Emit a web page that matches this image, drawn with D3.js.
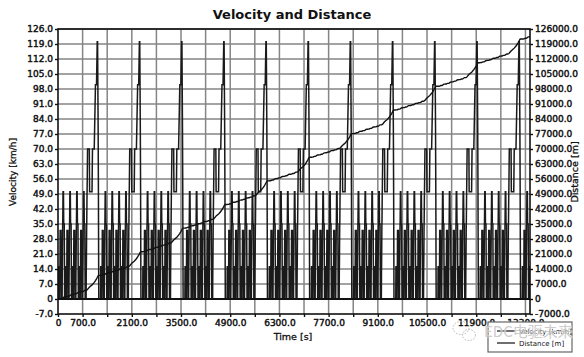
<!DOCTYPE html>
<html><head><meta charset="utf-8">
<script src="https://cdn.jsdelivr.net/npm/d3@7"></script>
<style>
html,body{margin:0;padding:0;background:#fff;}
svg{display:block;font-family:"DejaVu Sans",Verdana,sans-serif;}
</style></head>
<body><svg id="c" width="584" height="357"></svg>
<script>
// ---- data (repeated NEDC-type cycle) ----
// one urban (ECE) sub-cycle: time [s] and speed [km/h]
const eceTimes  = [0, 11, 15, 23, 25, 28, 49, 54, 56, 61, 85, 93, 96, 117, 122, 124, 133, 135, 143, 155, 163, 176, 178, 185, 188, 195];
const eceSpeeds = [0, 0, 15, 15, 10, 0, 0, 15, 15, 32, 32, 10, 0, 0, 15, 15, 35, 35, 50, 50, 35, 35, 35, 10, 0, 0];
// extra-urban part: time [s] and speed [km/h]
const eudcTimes  = [0, 20, 25, 27, 36, 38, 46, 48, 61, 111, 119, 188, 201, 251, 286, 316, 336, 346, 362, 370, 380, 400];
const eudcSpeeds = [0, 0, 15, 15, 35, 35, 50, 50, 70, 70, 50, 50, 70, 70, 100, 100, 120, 120, 80, 50, 0, 0];
// start offsets of the urban sub-cycles and of the extra-urban part in each cycle
const eceOffsets = [0, 195, 390, 585];
const eudcOffset = [780];
// start time of every cycle [s] and the end of the record
const cycleStarts = [0, 1200, 2400, 3600, 4800, 6000, 7200, 8400, 9600, 10800, 12000, 13200];
const cycleLength = [1200];
const endTime = [13430];
// axis ticks
const xTicks = [0,700,1400,2100,2800,3500,4200,4900,5600,6300,7000,7700,8400,9100,9800,10500,11200,11900,12600,13300];
const xTickLabels = ["0","700.0","","2100.0","","3500.0","","4900.0","","6300.0","","7700.0","","9100.0","","10500.0","","11900.0","","13300.0"];
const vTicks = [-7,0,7,14,21,28,35,42,49,56,63,70,77,84,91,98,105,112,119,126];
const dTicks = [-7000,0,7000,14000,21000,28000,35000,42000,49000,56000,63000,70000,77000,84000,91000,98000,105000,112000,119000,126000];

// ---- build the velocity series from the cycle tables ----
const velocity = [];
cycleStarts.forEach(s => {
  eceOffsets.forEach(o => eceTimes.forEach((t,i) => velocity.push([s+o+t, eceSpeeds[i]])));
  eudcTimes.forEach((t,i) => velocity.push([s+eudcOffset[0]+t, eudcSpeeds[i]]));
  velocity.push([s+cycleLength[0], 0]);
});
// clip to end of record
const vel = [];
for (let i=0;i<velocity.length;i++){
  const p = velocity[i];
  if (p[0] <= endTime[0]) vel.push(p);
  else { const q = vel[vel.length-1]; const f=(endTime[0]-q[0])/(p[0]-q[0]); vel.push([endTime[0], q[1]+f*(p[1]-q[1])]); break; }
}
// distance = integral of velocity
const distance = [[0,0]];
let acc = 0;
for (let i=1;i<vel.length;i++){
  const dt = vel[i][0]-vel[i-1][0];
  acc += dt*(vel[i][1]+vel[i-1][1])/2/3.6;
  distance.push([vel[i][0], acc]);
}

// ---- drawing ----
const svg = d3.select("#c");
const L=58, R=530, T=29, B=314;
const x = d3.scaleLinear().domain([0, endTime[0]]).range([L,R]);
const yV = d3.scaleLinear().domain([-7,126]).range([B,T]);
const yD = d3.scaleLinear().domain([-7000,126000]).range([B,T]);

svg.append("text").attr("x",292).attr("y",19).attr("text-anchor","middle")
  .attr("font-size",13).attr("font-weight","bold").attr("fill","#111").text("Velocity and Distance");

svg.append("rect").attr("x",L).attr("y",T).attr("width",R-L).attr("height",B-T).attr("fill","#fff");

const grid = svg.append("g").attr("stroke","#858585").attr("stroke-width",1.5);
grid.selectAll("line.v").data(xTicks.filter(d=>d>0)).join("line")
  .attr("x1",d=>x(d)).attr("x2",d=>x(d)).attr("y1",T).attr("y2",B);
grid.selectAll("line.h").data(vTicks.filter(d=>d!==-7 && d!==0)).join("line")
  .attr("x1",L).attr("x2",R).attr("y1",d=>yV(d)).attr("y2",d=>yV(d));

svg.append("defs").append("clipPath").attr("id","clip").append("rect")
  .attr("x",L).attr("y",T).attr("width",R-L).attr("height",B-T);

const plot = svg.append("g").attr("clip-path","url(#clip)");
plot.append("path").datum(vel)
  .attr("d", d3.line().x(d=>x(d[0])).y(d=>yV(d[1])))
  .attr("fill","none").attr("stroke","#1a1a1a").attr("stroke-width",1.5).attr("stroke-linejoin","miter");
plot.append("path").datum(distance)
  .attr("d", d3.line().x(d=>x(d[0])).y(d=>yD(d[1])))
  .attr("fill","none").attr("stroke","#111").attr("stroke-width",1.4);

// zero line and frame
svg.append("line").attr("x1",L).attr("x2",R).attr("y1",yV(0)).attr("y2",yV(0)).attr("stroke","#111").attr("stroke-width",2);
svg.append("rect").attr("x",L).attr("y",T).attr("width",R-L).attr("height",B-T)
  .attr("fill","none").attr("stroke","#111").attr("stroke-width",1.6);

// axes
const fmtV = d => d===0 ? "0" : d.toFixed(1);
const axL = svg.append("g").attr("transform",`translate(${L},0)`)
  .call(d3.axisLeft(yV).tickValues(vTicks).tickFormat(fmtV).tickSize(3).tickPadding(2));
const axR = svg.append("g").attr("transform",`translate(${R},0)`)
  .call(d3.axisRight(yD).tickValues(dTicks).tickFormat(fmtV).tickSize(3).tickPadding(2));
const axB = svg.append("g").attr("transform",`translate(0,${B})`)
  .call(d3.axisBottom(x).tickValues(xTicks).tickFormat((d,i)=>xTickLabels[i]).tickSize(3).tickPadding(3));
[axL,axR,axB].forEach(a=>{
  a.select(".domain").remove();
  a.selectAll(".tick line").attr("stroke","#111").attr("stroke-width",1.4);
  a.selectAll("text").attr("font-family","DejaVu Sans").attr("font-size",9).attr("fill","#111")
    .attr("stroke","#111").attr("stroke-width",0.45);
});

svg.append("text").attr("x",293).attr("y",340).attr("text-anchor","middle")
  .attr("font-size",9.5).attr("fill","#111").attr("stroke","#111").attr("stroke-width",0.3).text("Time [s]");
svg.append("text").attr("transform","translate(16,172) rotate(-90)").attr("text-anchor","middle")
  .attr("font-size",9).attr("fill","#111").attr("stroke","#111").attr("stroke-width",0.3).text("Velocity [km/h]");
svg.append("text").attr("transform","translate(578,172) rotate(-90)").attr("text-anchor","middle")
  .attr("font-size",9.5).attr("fill","#111").attr("stroke","#111").attr("stroke-width",0.3).text("Distance [m]");

// legend
const lg = svg.append("g");
lg.append("rect").attr("x",488).attr("y",322).attr("width",84).attr("height",30)
  .attr("fill","#fff").attr("stroke","#666").attr("stroke-width",1.2);
[["Velocity [km/h]",331],["Distance [m]",343]].forEach(([t,yy])=>{
  lg.append("line").attr("x1",497).attr("x2",515).attr("y1",yy).attr("y2",yy).attr("stroke","#111").attr("stroke-width",1.2);
  lg.append("text").attr("x",519).attr("y",yy+2.5).attr("font-size",7).attr("fill","#111").text(t);
});

// watermark
const wm = svg.append("g").attr("opacity",0.85);
wm.append("ellipse").attr("cx",461).attr("cy",328).attr("rx",8).attr("ry",6.5)
  .attr("fill","none").attr("stroke","#aaa").attr("stroke-width",1).attr("stroke-dasharray","1.5,1.5");
wm.append("ellipse").attr("cx",469).attr("cy",335).attr("rx",6.5).attr("ry",5.5)
  .attr("fill","none").attr("stroke","#aaa").attr("stroke-width",1).attr("stroke-dasharray","1.5,1.5");
wm.append("text").attr("x",484).attr("y",337).attr("font-family","Noto Sans CJK SC, DejaVu Sans")
  .attr("font-size",15).attr("fill","#c4c4c4").attr("stroke","#fff").attr("stroke-width",0.6)
  .attr("paint-order","stroke").text("EDC电驱未来");
</script>
</body></html>
